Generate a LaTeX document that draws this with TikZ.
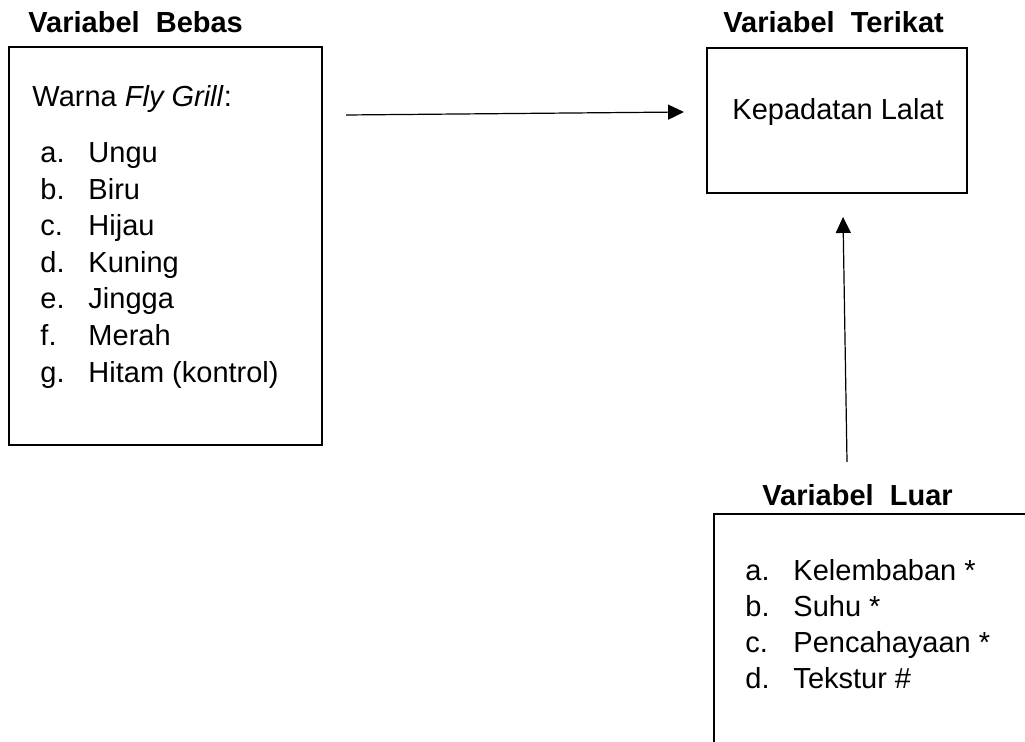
\documentclass[tikz,border=0pt]{standalone}
\usepackage{fontspec}
\setmainfont{Liberation Sans}
\usepackage{tikz}
\usetikzlibrary{positioning}
\usetikzlibrary{arrows.meta}
\usetikzlibrary{fit}

\begin{document}
\begin{tikzpicture}[x = 0.4138pt, y = -0.4138pt]
\tikzstyle{BoxStyle} = [draw, line width=0.85pt, inner sep=0pt]
\tikzstyle{TitleStyle} = [anchor=base west, inner sep=0pt, font=\fontsize{12}{14}\selectfont\bfseries]
\tikzstyle{TextStyle} = [anchor=base west, inner sep=0pt, font=\fontsize{12}{14}\selectfont]
\tikzstyle{ArrowStyle} = [line width=0.5pt, -{Triangle[length=6.6pt, width=6.2pt]}]
\useasboundingbox (0,0) rectangle (1025,741);
\clip (0,0) rectangle (1025,741);
% judul
\node[TitleStyle] (tBebas) at (28,33) {Variabel~~Bebas};
\node[TitleStyle] (tTerikat) at (723,33) {Variabel~~Terikat};
\node[TitleStyle] (tLuar) at (762,505) {Variabel~~Luar};
% kotak
\node[BoxStyle, fit={(9,47) (322,445)}] (bebas) {};
\node[BoxStyle, fit={(707,48) (967,193)}] (terikat) {};
\node[BoxStyle, fit={(714,514) (1045,770)}] (luar) {};
% variabel bebas
\node[TextStyle] (warna) at (32,107) {Warna \textit{Fly Grill}:};
\node[TextStyle] (la) at (40,163) {a.};
\node[TextStyle] (va) at (88,163) {Ungu};
\node[TextStyle] (lb) at (40,199.5) {b.};
\node[TextStyle] (vb) at (88,199.5) {Biru};
\node[TextStyle] (lc) at (40,236) {c.};
\node[TextStyle] (vc) at (88,236) {Hijau};
\node[TextStyle] (ld) at (40,272.5) {d.};
\node[TextStyle] (vd) at (88,272.5) {Kuning};
\node[TextStyle] (le) at (40,309) {e.};
\node[TextStyle] (ve) at (88,309) {Jingga};
\node[TextStyle] (lf) at (40,345.5) {f.};
\node[TextStyle] (vf) at (88,345.5) {Merah};
\node[TextStyle] (lg) at (40,382) {g.};
\node[TextStyle] (vg) at (88,382) {Hitam (kontrol)};
% variabel terikat
\node[TextStyle] (kepadatan) at (732,120) {Kepadatan Lalat};
% variabel luar
\node[TextStyle] (xa) at (745,580) {a.};
\node[TextStyle] (ua) at (793,580) {Kelembaban *};
\node[TextStyle] (xb) at (745,616) {b.};
\node[TextStyle] (ub) at (793,616) {Suhu *};
\node[TextStyle] (xc) at (745,652) {c.};
\node[TextStyle] (uc) at (793,652) {Pencahayaan *};
\node[TextStyle] (xd) at (745,688) {d.};
\node[TextStyle] (ud) at (793,688) {Tekstur \#};
% panah
\coordinate (outBebas) at (346,115);
\coordinate (inTerikat) at (684,112);
\coordinate (outLuar) at (847,462);
\coordinate (inTerikatB) at (843,217);
\draw[ArrowStyle] (outBebas) -- (inTerikat);
\draw[ArrowStyle] (outLuar) -- (inTerikatB);
\end{tikzpicture}
\end{document}
